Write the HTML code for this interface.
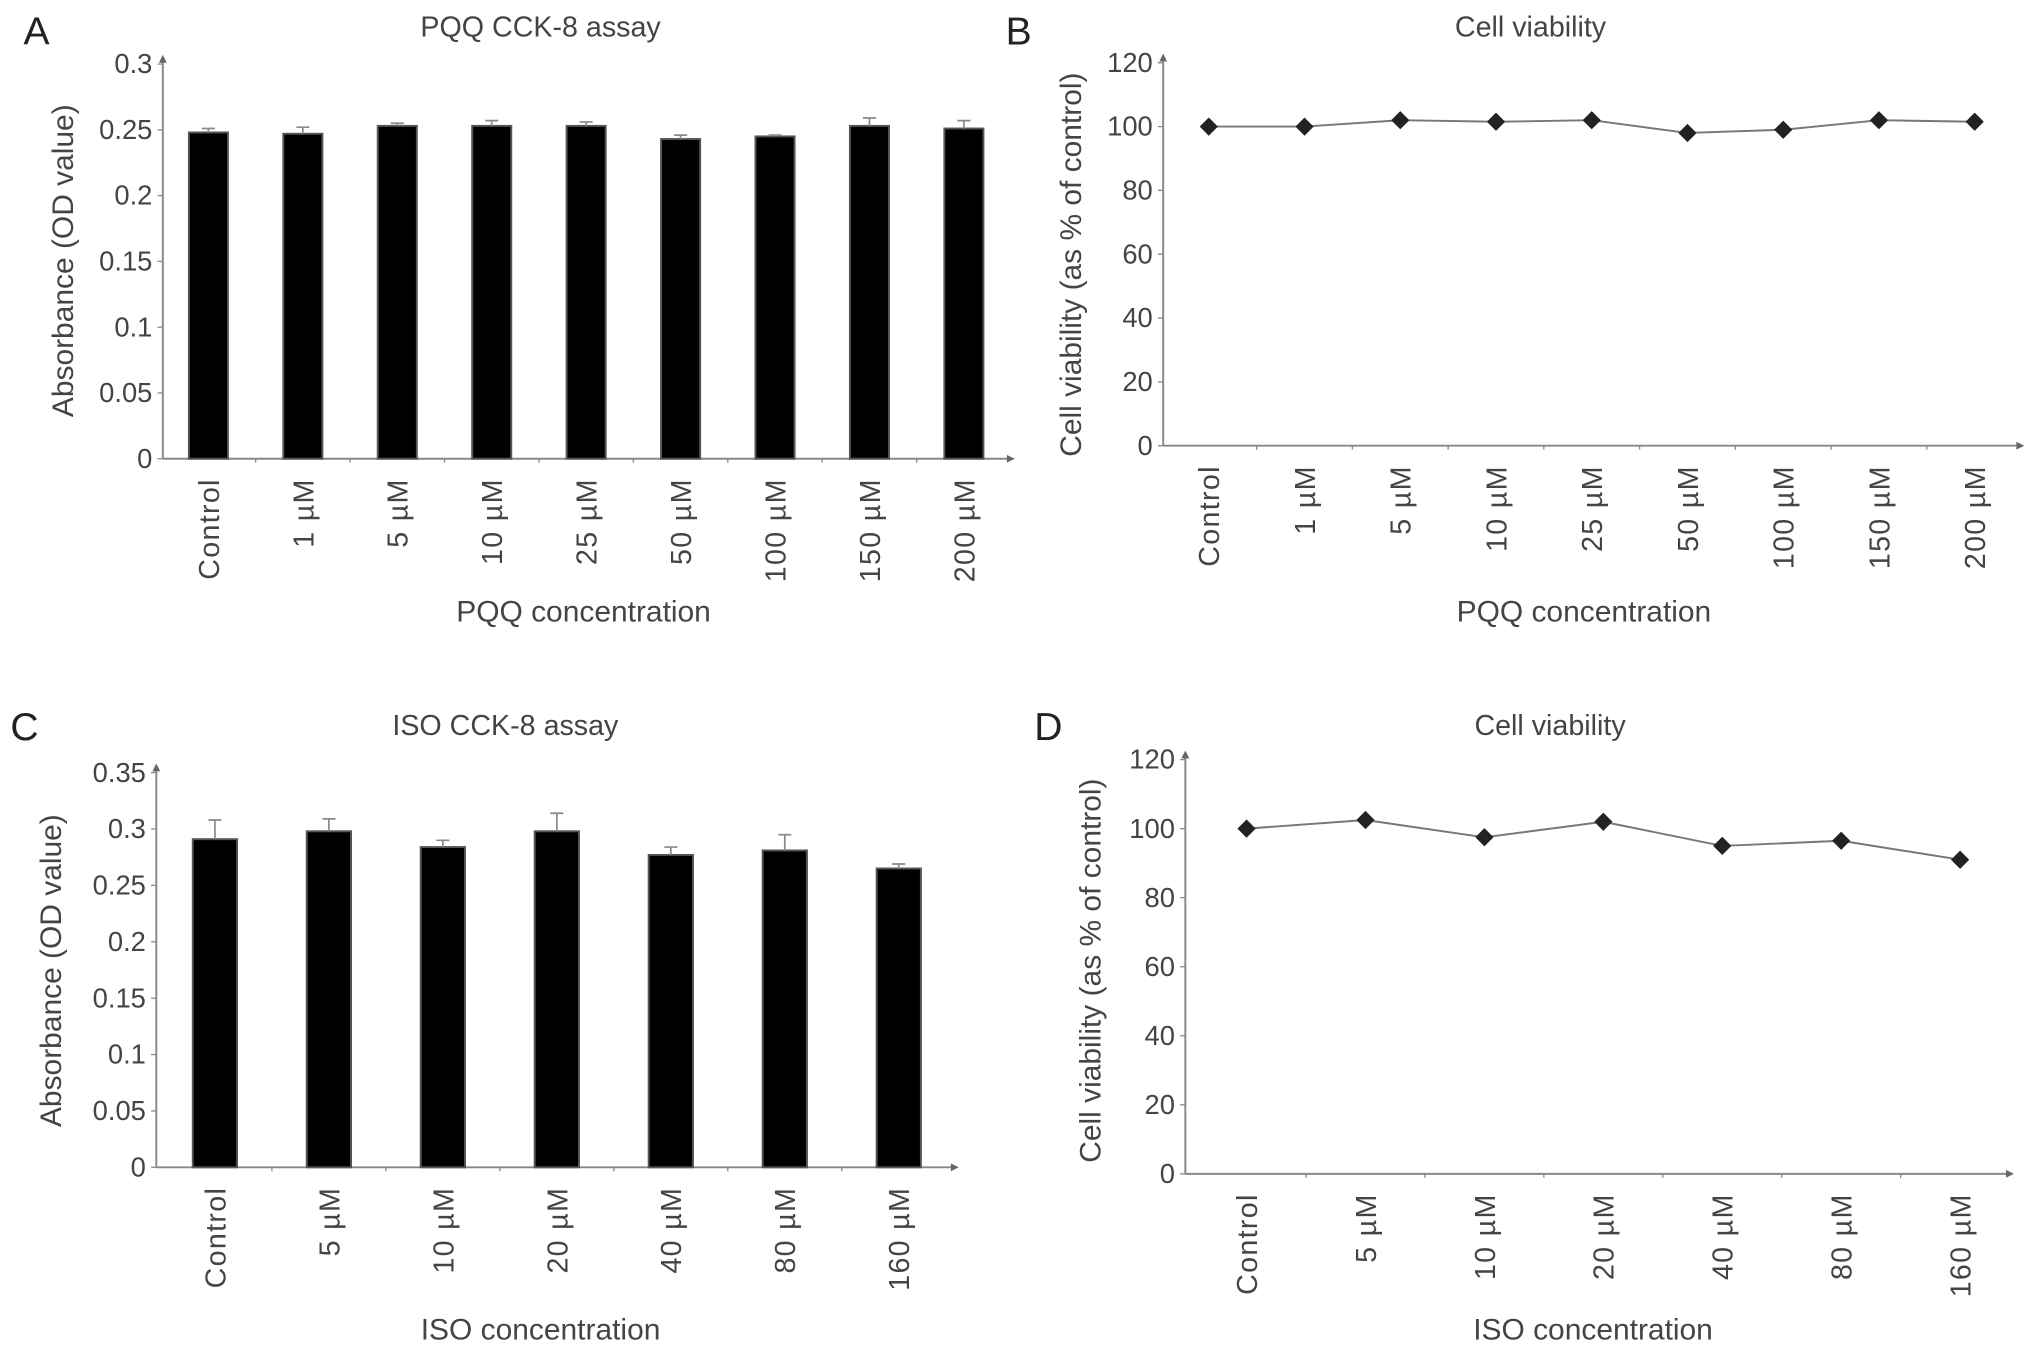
<!DOCTYPE html>
<html><head><meta charset="utf-8">
<style>
html,body{margin:0;padding:0;background:#fff;}
svg{display:block;font-family:"Liberation Sans",sans-serif;}
</style></head>
<body>
<svg id="fig" width="2032" height="1346" viewBox="0 0 1560 1033" xmlns="http://www.w3.org/2000/svg">
<rect width="1560" height="1033" fill="#fff"/>
<g id="root"></g>
</svg>
<script>
// Panel A data
const catsA = ["Control","1 \u00b5M","5 \u00b5M","10 \u00b5M","25 \u00b5M","50 \u00b5M","100 \u00b5M","150 \u00b5M","200 \u00b5M"];
const valsA = [0.248,0.247,0.253,0.253,0.253,0.243,0.245,0.253,0.251];
const errA = [0.003,0.005,0.002,0.004,0.003,0.003,0.001,0.006,0.006];
const ticksA = ["0","0.05","0.1","0.15","0.2","0.25","0.3"];
// Panel B data
const catsB = ["Control","1 \u00b5M","5 \u00b5M","10 \u00b5M","25 \u00b5M","50 \u00b5M","100 \u00b5M","150 \u00b5M","200 \u00b5M"];
const valsB = [100,100,102,101.5,102,98,99,102,101.5];
const ticksB = ["0","20","40","60","80","100","120"];
// Panel C data
const catsC = ["Control","5 \u00b5M","10 \u00b5M","20 \u00b5M","40 \u00b5M","80 \u00b5M","160 \u00b5M"];
const valsC = [0.291,0.298,0.284,0.298,0.277,0.281,0.265];
const errC = [0.017,0.011,0.006,0.016,0.007,0.014,0.004];
const ticksC = ["0","0.05","0.1","0.15","0.2","0.25","0.3","0.35"];
// Panel D data
const catsD = ["Control","5 \u00b5M","10 \u00b5M","20 \u00b5M","40 \u00b5M","80 \u00b5M","160 \u00b5M"];
const valsD = [100,102.5,97.5,102,95,96.5,91];
const ticksD = ["0","20","40","60","80","100","120"];

const NS="http://www.w3.org/2000/svg";
const root=document.getElementById('root');
function mk(tag,attrs,parent){const e=document.createElementNS(NS,tag);for(const k in attrs)e.setAttribute(k,attrs[k]);(parent||root).appendChild(e);return e;}
function txt(s,attrs,parent){const t=mk('text',attrs,parent);t.textContent=s;return t;}

function panel(cfg){
  const g=mk('g',{});
  
  
  const maxV=cfg.max, y0=cfg.y0, yTop=cfg.yTop;
  const yS=v=>y0-(v/maxV)*(y0-yTop);
  const xS=i=>cfg.x0+i*cfg.step;
  const L=txt(cfg.letter,{x:cfg.lx,y:cfg.ly,'font-size':30,fill:'#222'},g);
  
  const T=txt(cfg.title,{x:cfg.tx,y:cfg.ty,'font-size':22,fill:'#444','text-anchor':'middle'},g);
  
  const ya=mk('line',{x1:cfg.ax,y1:y0,x2:cfg.ax,y2:yTop-5,stroke:'#888','stroke-width':1.5},g);
  
  const xa=mk('line',{x1:cfg.ax,y1:y0,x2:cfg.xEnd,y2:y0,stroke:'#888','stroke-width':1.5},g);
  
  mk('path',{d:`M${cfg.ax-3},${yTop-1} L${cfg.ax},${yTop-7} L${cfg.ax+3},${yTop-1}Z`,fill:'#666'},g);
  mk('path',{d:`M${cfg.xEnd-5},${y0-3} L${cfg.xEnd+1},${y0} L${cfg.xEnd-5},${y0+3}Z`,fill:'#666'},g);
  const n=cfg.ticks.length;
  cfg.ticks.forEach((t,i)=>{
    const v=maxV*i/(n-1), y=yS(v);
    mk('line',{x1:cfg.ax-4,y1:y,x2:cfg.ax,y2:y,stroke:'#888'},g);
    const tl=txt(t,{x:cfg.ax-8,y:y+7,'font-size':21,fill:'#444','text-anchor':'end'},g);
    
  });
  cfg.cats.forEach((c,i)=>{
    const x=xS(i);
    if(i>0) mk('line',{x1:x-cfg.step/2,y1:y0,x2:x-cfg.step/2,y2:y0+3,stroke:'#888'},g);
    const tl=txt(c,{x:0,y:0,'font-size':22,'letter-spacing':1,fill:'#444','text-anchor':'end',transform:`translate(${x+8},${y0+15}) rotate(-90)`},g);
    
  });
  if(cfg.type==='bar'){
    cfg.vals.forEach((v,i)=>{
      const x=xS(i), y=yS(v);
      const b=mk('rect',{x:x-cfg.bw/2,y:y,width:cfg.bw,height:y0-y,fill:'#000',stroke:'#555','stroke-width':1.5},g);
      
      const ye=yS(v+cfg.err[i]);
      const e=mk('path',{d:`M${x},${y} L${x},${ye} M${x-5},${ye} L${x+5},${ye}`,stroke:'#888','stroke-width':1.3,fill:'none'},g);
      
    });
  } else {
    const d=cfg.vals.map((v,i)=>(i?'L':'M')+xS(i)+','+yS(v)).join(' ');
    const p=mk('path',{d:d,stroke:'#777','stroke-width':1.5,fill:'none'},g);
    
    cfg.vals.forEach((v,i)=>{
      const x=xS(i), y=yS(v);
      const m=mk('path',{d:`M${x},${y-7} L${x+7},${y} L${x},${y+7} L${x-7},${y}Z`,fill:'#222'},g);
      
    });
  }
  const xt=txt(cfg.xtitle,{x:cfg.xtx,y:cfg.xty,'font-size':23,fill:'#444','text-anchor':'middle'},g);
  
  const yt=txt(cfg.ytitle,{x:0,y:0,'font-size':23,fill:'#444','text-anchor':'middle',transform:`translate(${cfg.ytx},${cfg.yty}) rotate(-90)`},g);
  
}

panel({name:'panel-a',type:'bar',letter:'A',lx:18,ly:34,title:'PQQ CCK-8 assay',tx:415,ty:28,
  cats:catsA,vals:valsA,err:errA,ticks:ticksA,max:0.3,y0:352,yTop:49,ax:125,xEnd:778,x0:160,step:72.5,bw:30,
  xtitle:'PQQ concentration',xtx:448,xty:477,ytitle:'Absorbance (OD value)',ytx:56,yty:200});
panel({name:'panel-b',type:'line',letter:'B',lx:772,ly:34,title:'Cell viability',tx:1175,ty:28,
  cats:catsB,vals:valsB,ticks:ticksB,max:120,y0:342,yTop:48,ax:893,xEnd:1553,x0:928,step:73.5,
  xtitle:'PQQ concentration',xtx:1216,xty:477,ytitle:'Cell viability (as % of control)',ytx:830,yty:203});
panel({name:'panel-c',type:'bar',letter:'C',lx:8,ly:568,title:'ISO CCK-8 assay',tx:388,ty:564,
  cats:catsC,vals:valsC,err:errC,ticks:ticksC,max:0.35,y0:896,yTop:593,ax:120,xEnd:735,x0:165,step:87.5,bw:34,
  xtitle:'ISO concentration',xtx:415,xty:1028,ytitle:'Absorbance (OD value)',ytx:47,yty:745});
panel({name:'panel-d',type:'line',letter:'D',lx:794,ly:568,title:'Cell viability',tx:1190,ty:564,
  cats:catsD,vals:valsD,ticks:ticksD,max:120,y0:901,yTop:583,ax:910,xEnd:1545,x0:957,step:91.3,
  xtitle:'ISO concentration',xtx:1223,xty:1028,ytitle:'Cell viability (as % of control)',ytx:845,yty:745});
</script>
</body></html>
